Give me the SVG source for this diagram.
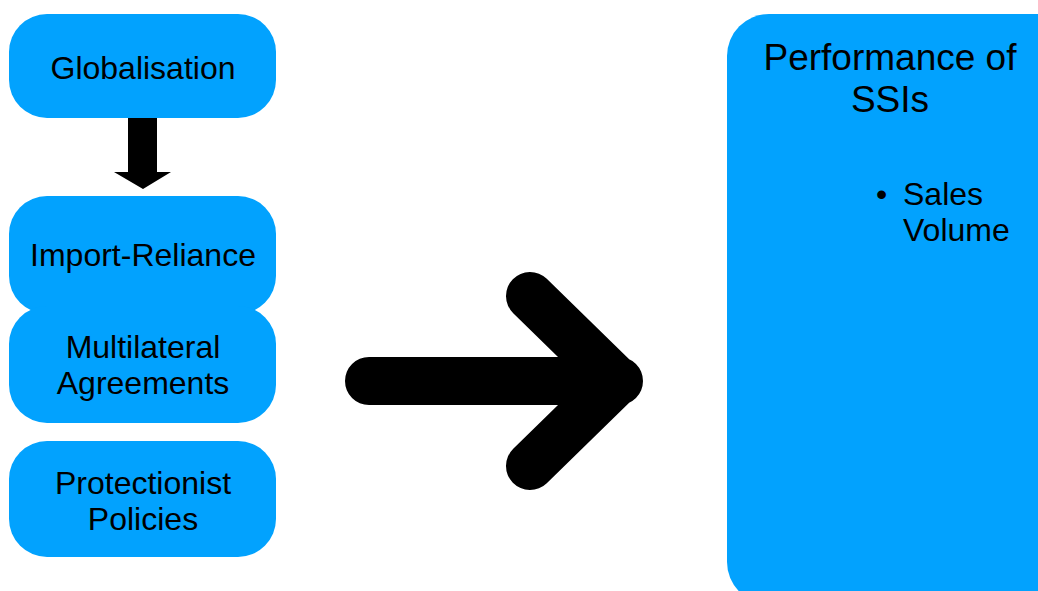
<svg xmlns="http://www.w3.org/2000/svg" width="1038" height="591" viewBox="0 0 1038 591">
<style>
.box{fill:#02A2FE;}
.t{font-family:"Liberation Sans",Arial,sans-serif;font-size:32px;fill:#000;text-anchor:middle;}
.big{font-size:37px;}
.l{text-anchor:start;}
</style>
<rect width="1038" height="591" fill="#fff"/>
<g id="connectors">
<polygon points="128,118 157,118 157,172 171,172 143,189 114,172 128,172" fill="#000"/>
<path d="M369 381 L619 381 M530 296 L617 381 L530 466" fill="none" stroke="#000" stroke-width="48" stroke-linecap="round" stroke-linejoin="round"/>
</g>
<g id="globalisation">
<rect class="box" x="9" y="14" width="267" height="104" rx="38"/>
<text class="t" x="143" y="79">Globalisation</text>
</g>
<g id="import-reliance">
<rect class="box" x="9" y="196" width="267" height="118" rx="38"/>
<text class="t" x="143" y="266">Import-Reliance</text>
</g>
<g id="multilateral">
<rect class="box" x="9" y="306" width="267" height="117" rx="38"/>
<text class="t" x="143" y="358">Multilateral</text>
<text class="t" x="143" y="394">Agreements</text>
</g>
<g id="protectionist">
<rect class="box" x="9" y="441" width="267" height="116" rx="38"/>
<text class="t" x="143" y="494">Protectionist</text>
<text class="t" x="143" y="530">Policies</text>
</g>
<g id="performance">
<rect class="box" x="727" y="14" width="360" height="590" rx="42"/>
<text class="t big" x="890" y="70">Performance of</text>
<text class="t big" x="890" y="112">SSIs</text>
<text class="t l" x="876" y="205">•</text>
<text class="t l" x="903" y="205">Sales</text>
<text class="t l" x="903" y="241">Volume</text>
</g>
</svg>
